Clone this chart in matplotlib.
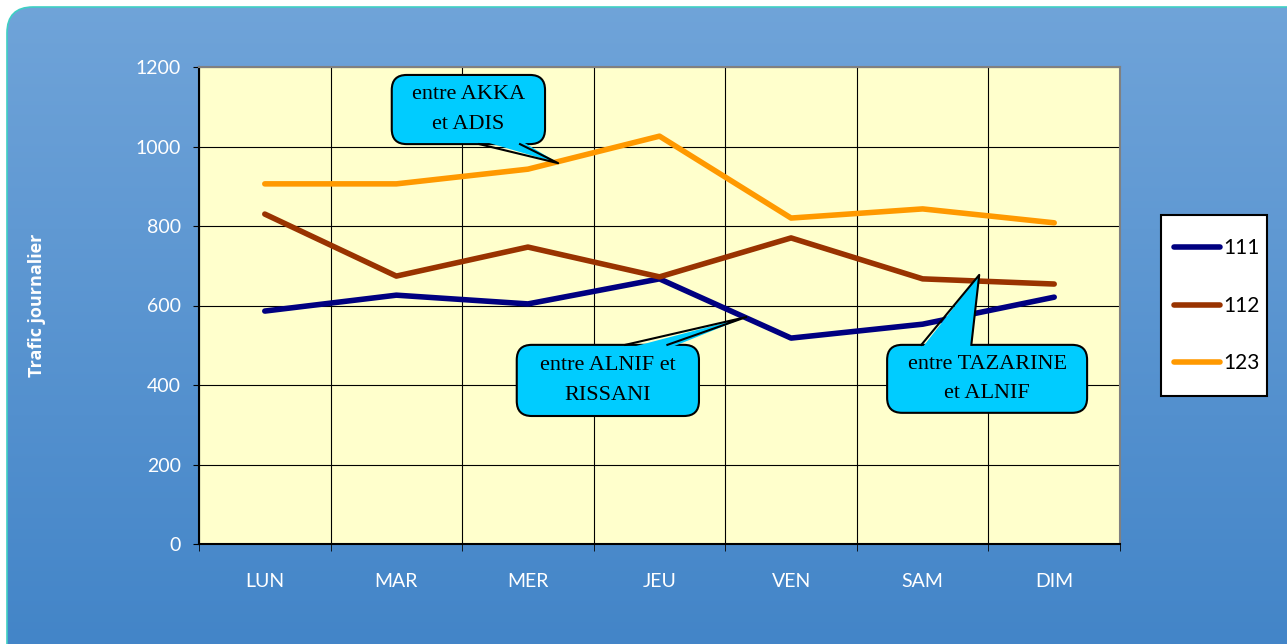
import matplotlib
matplotlib.use("Agg")
import matplotlib.pyplot as plt
import numpy as np
from matplotlib.patches import FancyBboxPatch, Polygon, Rectangle
from matplotlib.lines import Line2D

days = ["LUN", "MAR", "MER", "JEU", "VEN", "SAM", "DIM"]
route_111 = [586, 626, 604, 667, 518, 553, 621]
route_112 = [830, 674, 747, 672, 770, 667, 654]
route_123 = [906, 906, 943, 1026, 820, 843, 808]

W, H = 1287, 644
fig = plt.figure(figsize=(W / 100, H / 100), dpi=100)
fig.patch.set_facecolor("white")

# fond bleu en degrade avec coin arrondi
bg = fig.add_axes([0, 0, 1, 1])
bg.set_xlim(0, W)
bg.set_ylim(0, H)
bg.axis("off")
frame = FancyBboxPatch((7, -60), 1400, H - 7 + 60,
                       boxstyle="round,pad=0,rounding_size=26",
                       facecolor="none", edgecolor="#3fcfc4", linewidth=1.2)
bg.add_patch(frame)
grad = np.linspace(0, 1, 256).reshape(-1, 1)
im = bg.imshow(grad, extent=[0, W, 0, H], origin="lower", aspect="auto",
               cmap=matplotlib.colors.LinearSegmentedColormap.from_list(
                   "bg", ["#4385c8", "#70a4d9"]))
im.set_clip_path(frame)

# zone du graphique
x0, x1, ytop, ybot = 199, 1120, 67, 544
ax = fig.add_axes([x0 / W, (H - ybot) / H, (x1 - x0) / W, (ybot - ytop) / H])
ax.set_facecolor("#ffffcc")
x = np.arange(len(days))
ax.plot(x, route_111, color="#000080", lw=4, label="111", solid_capstyle="round", zorder=3)
ax.plot(x, route_112, color="#993300", lw=4, label="112", solid_capstyle="round", zorder=3)
ax.plot(x, route_123, color="#ff9900", lw=4, label="123", solid_capstyle="round", zorder=3)

ax.set_xlim(-0.5, len(days) - 0.5)
ax.set_ylim(0, 1200)
ax.set_yticks(np.arange(0, 1201, 200))
ax.set_xticks(x)
ax.set_xticklabels(days)
ax.set_xticks(np.arange(-0.5, len(days)), minor=True)
ax.grid(True, axis="y", color="black", lw=0.8)
ax.grid(True, axis="x", which="minor", color="black", lw=0.8)
ax.set_axisbelow(True)
ax.tick_params(axis="x", which="major", length=0, pad=21, labelsize=14,
               labelcolor="white")
ax.tick_params(axis="x", which="minor", length=5, direction="out", color="black")
ax.tick_params(axis="y", length=4, direction="out", pad=9, labelsize=14,
               labelcolor="white", color="black")
for lab in ax.get_xticklabels() + ax.get_yticklabels():
    lab.set_family("Lato")
ax.spines["left"].set_color("black")
ax.spines["bottom"].set_color("black")
ax.spines["top"].set_color("#808080")
ax.spines["right"].set_color("#808080")
for s in ax.spines.values():
    s.set_linewidth(1.5)

fig.text(37 / W, (H - 305) / H, "Trafic journalier", rotation=90, color="white",
         fontsize=13, fontweight="bold", family="Open Sans", ha="center", va="center")

# legende dessinee a la main (cadre blanc a droite)
bg.add_patch(Rectangle((1161, H - 396), 106, 181, facecolor="white",
                       edgecolor="black", lw=1.5, zorder=4))
handles, labels = ax.get_legend_handles_labels()
for i, (h, lab) in enumerate(zip(handles, labels)):
    yy = H - (247 + 57.5 * i)
    bg.add_line(Line2D([1174, 1220], [yy, yy], color=h.get_color(), lw=4,
                       solid_capstyle="round", zorder=5))
    bg.text(1223, yy - 1, lab, ha="left", va="center", fontsize=15,
            family="Lato", color="black", zorder=5)


def callout(text, box, base, tip):
    # box: (xa, xb, ya, yb) en donnees ; base: deux x sur le bord ; tip: (x, y)
    T = ax.transData.transform
    (px0, py0), (px1, py1) = T((box[0], box[2])), T((box[1], box[3]))
    lo, hi = min(py0, py1), max(py0, py1)
    tx, ty = T(tip)
    edge_y = hi if ty > hi else lo
    inset = -4 if edge_y == hi else 4
    ba = T((base[0], 0))[0]
    bb = T((base[1], 0))[0]
    r = FancyBboxPatch((px0, lo), px1 - px0, hi - lo,
                       boxstyle="round,pad=0,rounding_size=15",
                       transform=None, facecolor="#00ccff", edgecolor="black",
                       lw=1.5, zorder=5, clip_on=False)
    fig.add_artist(r)
    fill = Polygon([(ba, edge_y + inset), (bb, edge_y + inset), (tx, ty)],
                   closed=True, transform=None, facecolor="#00ccff",
                   edgecolor="none", zorder=6)
    fig.add_artist(fill)
    fig.add_artist(Line2D([ba, tx, bb], [edge_y, ty, edge_y], transform=None,
                          color="black", lw=1.5, zorder=7))
    fig.text((px0 + px1) / 2 / W, (lo + hi) / 2 / H, text, ha="center", va="center",
             family="Liberation Serif", fontsize=16, linespacing=1.75, zorder=8)


callout("entre AKKA\net ADIS", (0.965, 2.13, 1006, 1180), (1.63, 1.94), (2.23, 958))
callout("entre ALNIF et\nRISSANI", (1.915, 3.30, 322, 501), (2.74, 3.06), (3.66, 571))
callout("entre TAZARINE\net ALNIF", (4.73, 6.25, 330, 501), (4.99, 5.37), (5.43, 677))

fig.savefig("out.png", dpi=100)
